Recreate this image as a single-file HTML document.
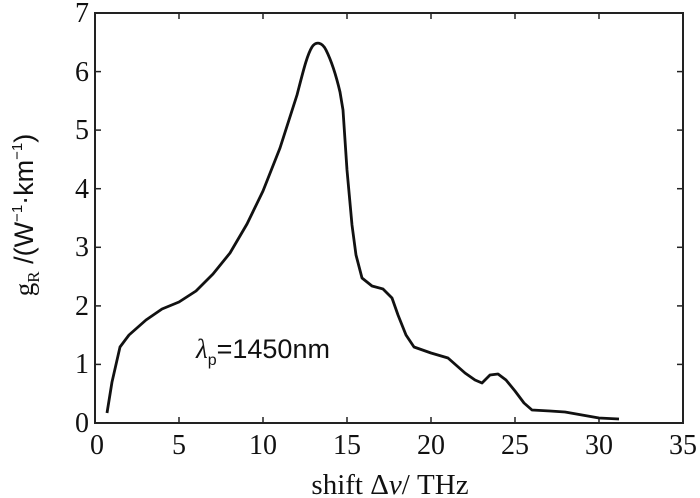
<!DOCTYPE html>
<html><head><style>body{margin:0;background:#fff}svg{display:block}text{font-family:"Liberation Serif",serif;fill:#111}</style></head><body>
<svg width="700" height="498" viewBox="0 0 700 498">
<rect x="95" y="13" width="588" height="410" fill="none" stroke="#222" stroke-width="2"/>
<g stroke="#222" stroke-width="1.5">
<line x1="179" y1="423" x2="179" y2="417"/><line x1="263" y1="423" x2="263" y2="417"/><line x1="347" y1="423" x2="347" y2="417"/><line x1="431" y1="423" x2="431" y2="417"/><line x1="515" y1="423" x2="515" y2="417"/><line x1="599" y1="423" x2="599" y2="417"/>
<line x1="179" y1="13" x2="179" y2="19"/><line x1="263" y1="13" x2="263" y2="19"/><line x1="347" y1="13" x2="347" y2="19"/><line x1="431" y1="13" x2="431" y2="19"/><line x1="515" y1="13" x2="515" y2="19"/><line x1="599" y1="13" x2="599" y2="19"/>
<line x1="95" y1="364.4" x2="101" y2="364.4"/><line x1="95" y1="305.9" x2="101" y2="305.9"/><line x1="95" y1="247.3" x2="101" y2="247.3"/><line x1="95" y1="188.7" x2="101" y2="188.7"/><line x1="95" y1="130.1" x2="101" y2="130.1"/><line x1="95" y1="71.6" x2="101" y2="71.6"/>
<line x1="683" y1="364.4" x2="677" y2="364.4"/><line x1="683" y1="305.9" x2="677" y2="305.9"/><line x1="683" y1="247.3" x2="677" y2="247.3"/><line x1="683" y1="188.7" x2="677" y2="188.7"/><line x1="683" y1="130.1" x2="677" y2="130.1"/><line x1="683" y1="71.6" x2="677" y2="71.6"/>
</g>
<g font-size="28" text-anchor="middle">
<text x="97" y="454">0</text><text x="179" y="454">5</text><text x="263" y="454">10</text><text x="347" y="454">15</text><text x="431" y="454">20</text><text x="515" y="454">25</text><text x="599" y="454">30</text><text x="683" y="454">35</text>
</g>
<g font-size="28" text-anchor="end">
<text x="89" y="432">0</text><text x="89" y="373">1</text><text x="89" y="315">2</text><text x="89" y="256">3</text><text x="89" y="198">4</text><text x="89" y="139">5</text><text x="89" y="81">6</text><text x="89" y="22">7</text>
</g>
<text x="390" y="494" font-size="29" text-anchor="middle">shift Δ<tspan font-style="italic">ν</tspan>/ THz</text>
<text transform="translate(33,215) rotate(-90)" font-size="27" text-anchor="middle">g<tspan font-size="17" dy="6">R</tspan><tspan dy="-6" style="font-family:'Liberation Sans',sans-serif"> /(W</tspan><tspan font-size="15" dy="-11" style="font-family:'Liberation Sans',sans-serif">−1</tspan><tspan dy="11" style="font-family:'Liberation Sans',sans-serif">·km</tspan><tspan font-size="15" dy="-11" style="font-family:'Liberation Sans',sans-serif">−1</tspan><tspan dy="11" style="font-family:'Liberation Sans',sans-serif">)</tspan></text>
<text x="196" y="358" font-size="27" style="font-family:'Liberation Sans',sans-serif"><tspan font-style="italic" style="font-family:'Liberation Serif',serif">λ</tspan><tspan font-size="16" dy="7">p</tspan><tspan dy="-7">=1450nm</tspan></text>
<path fill="none" stroke="#111" stroke-width="2.8" stroke-linejoin="round" d="M107,413 L112,382 L120,347 L129,335 L146,320 L162,309 L179,302 L196,291 L213,274 L230,253 L247,224 L263,191 L280,148 L297,95 C303,72 307,55 312,47 C316,41 322,42 326,50 C331,60 336,75 340,92 L343,110 L347,170 L352,225 L356,255 L362,278 L372,286 L383,289 L392,298 L398,315 L406,335 L414,347 L431,353 L448,358 L465,373 L475,380 L482,383 L490,375 L498,374 L506,380 L515,391 L524,403 L532,410 L550,411 L565,412 L582,415 L599,418 L619,419"/>
</svg>
</body></html>
